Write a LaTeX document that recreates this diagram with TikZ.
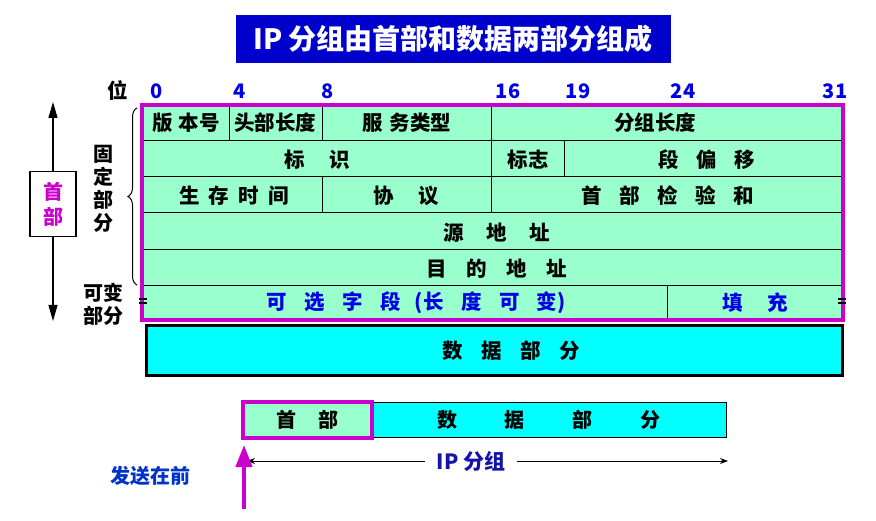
\documentclass[tikz,border=0pt]{standalone}
\usepackage{fontspec}
\setmainfont{Noto Sans CJK SC}
\usetikzlibrary{arrows.meta,decorations.pathreplacing}
\definecolor{tgreen}{RGB}{153,255,204}
\definecolor{mag}{RGB}{204,0,204}
\definecolor{bitblue}{RGB}{0,0,230}
\definecolor{titleblue}{RGB}{0,0,204}
\definecolor{ipblue}{RGB}{20,20,170}
\definecolor{sendblue}{RGB}{0,51,204}
\definecolor{dcyan}{RGB}{0,255,255}
\newcommand{\gp}[1]{\hspace{#1}}
\begin{document}
\begin{tikzpicture}[x=1pt,y=-1pt,
  tx/.style={font=\fontsize{20.5}{24}\selectfont\bfseries, inner sep=0pt},
  bit/.style={font=\fontsize{20}{24}\selectfont\bfseries, text=bitblue, inner sep=0pt},
  grid/.style={line width=1pt, black},
]
\useasboundingbox (0,0) rectangle (876,521);
% title
\node[fill=titleblue, minimum width=435pt, minimum height=48pt, inner sep=0pt,
      text=white, font=\fontsize{28}{32}\selectfont\bfseries] (title) at (453,39) {IP 分组由首部和数据两部分组成};
% bit labels
\node[tx] (wei) at (118,91) {位};
\node[bit] (b0) at (157,91) {0};
\node[bit] (b4) at (240,91) {4};
\node[bit] (b8) at (328,91) {8};
\node[bit] (b16) at (508,91) {16};
\node[bit] (b19) at (578,91) {19};
\node[bit] (b24) at (683,91) {24};
\node[bit] (b31) at (835,91) {31};
% table
\fill[tgreen] (142,105) rectangle (843,320);
\draw[grid] (142,141) -- (843,141);
\draw[grid] (142,177) -- (843,177);
\draw[grid] (142,213) -- (843,213);
\draw[grid] (142,250) -- (843,250);
\draw[grid] (142,286) -- (843,286);
\draw[grid] (229,105) -- (229,141);
\draw[grid] (322,105) -- (322,141);
\draw[grid] (491,105) -- (491,213);
\draw[grid] (564,141) -- (564,177);
\draw[grid] (322,177) -- (322,213);
\draw[grid] (667,286) -- (667,320);
% cell texts
\node[tx] (ver) at (186,123) {版\gp{0.3em}本号};
\node[tx] (ihl) at (275,123) {头部长度};
\node[tx] (tos) at (407,123) {服\gp{0.3em}务类型};
\node[tx] (tlen) at (655,123) {分组长度};
\node[tx] (id) at (317,160) {标\gp{1.2em}识};
\node[tx] (flag) at (528,160) {标志};
\node[tx] (frag) at (707,160) {段\gp{0.85em}偏\gp{0.85em}移};
\node[tx] (ttl) at (234,196) {生\gp{0.45em}存\gp{0.45em}时\gp{0.45em}间};
\node[tx] (proto) at (406,196) {协\gp{1.2em}议};
\node[tx] (csum) at (668,196) {首\gp{0.85em}部\gp{0.85em}检\gp{0.85em}验\gp{0.85em}和};
\node[tx] (src) at (497,233) {源\gp{1.1em}地\gp{1.1em}址};
\node[tx] (dst) at (497,269) {目\gp{0.95em}的\gp{0.95em}地\gp{0.95em}址};
\node[tx, text=bitblue] (opt) at (416,303) {可\gp{0.85em}选\gp{0.85em}字\gp{0.85em}段\gp{0.7em}(长\gp{0.85em}度\gp{0.85em}可\gp{0.85em}变)};
\node[tx, text=bitblue] (pad) at (755,303) {填\gp{1.2em}充};
% magenta frame
\draw[mag, line width=4pt] (142,105) rectangle (843,320);
% small marks
\draw[line width=2pt] (139,299.5) -- (147,299.5) (139,303.5) -- (147,303.5);
\draw[line width=2pt] (838,299.5) -- (846,299.5) (838,303.5) -- (846,303.5);
% data part
\node[draw=black, line width=3pt, fill=dcyan, minimum width=696pt, minimum height=50pt, inner sep=0pt] (data) at (494,351) {};
\node[tx] (datat) at (511,351) {数\gp{0.9em}据\gp{0.9em}部\gp{0.9em}分};
% left side
\node[draw=black, line width=1.2pt, fill=white, minimum width=46pt, minimum height=65pt, inner sep=0pt,
      align=center, text=mag, font=\fontsize{20}{25}\selectfont\bfseries] (hdr) at (53,204) {首\\部};
\coordinate (atop) at (53,102);
\coordinate (abot) at (53,321);
\draw[line width=1.2pt, -{Triangle[width=9pt,length=16pt]}] (hdr.north) -- (atop);
\draw[line width=1.2pt, -{Triangle[width=9pt,length=16pt]}] (hdr.south) -- (abot);
\draw[line width=1pt, decorate, decoration={brace, amplitude=9pt}] (137,285) -- (137,108);
\node[tx, align=center, font=\fontsize{20}{23}\selectfont\bfseries] (fixed) at (103,189) {固\\定\\部\\分};
\node[tx, align=center, font=\fontsize{20}{23}\selectfont\bfseries] (var) at (103,304) {可变\\部分};
% bottom packet
\node[draw=black, line width=1pt, fill=dcyan, minimum width=354pt, minimum height=34pt, inner sep=0pt,
      font=\fontsize{20}{22}\selectfont\bfseries] (pdata) at (549,420) {数\gp{2.4em}据\gp{2.4em}部\gp{2.4em}分};
\node[draw=mag, line width=4pt, fill=tgreen, minimum width=129pt, minimum height=36pt, inner sep=0pt,
      font=\fontsize{20}{22}\selectfont\bfseries] (phdr) at (307.5,420) {首\gp{1.1em}部};
\node[font=\fontsize{21}{24}\selectfont\bfseries, text=ipblue, fill=white, inner xsep=12pt, inner ysep=2pt] (ip) at (471,461) {IP 分组};
\coordinate (ipl) at (247,461);
\coordinate (ipr) at (728,461);
\draw[line width=0.8pt, -{Stealth[width=6pt,length=8pt]}] (ip.west) -- (ipl);
\draw[line width=0.8pt, -{Stealth[width=6pt,length=8pt]}] (ip.east) -- (ipr);
\coordinate (sbot) at (244,509);
\coordinate (stip) at (244,445);
\draw[mag, line width=4pt, -{Triangle[width=16pt,length=22pt]}] (sbot) -- (stip);
\node[font=\fontsize{20}{22}\selectfont\bfseries, text=sendblue] (send) at (150,476) {发送在前};
\end{tikzpicture}
\end{document}
